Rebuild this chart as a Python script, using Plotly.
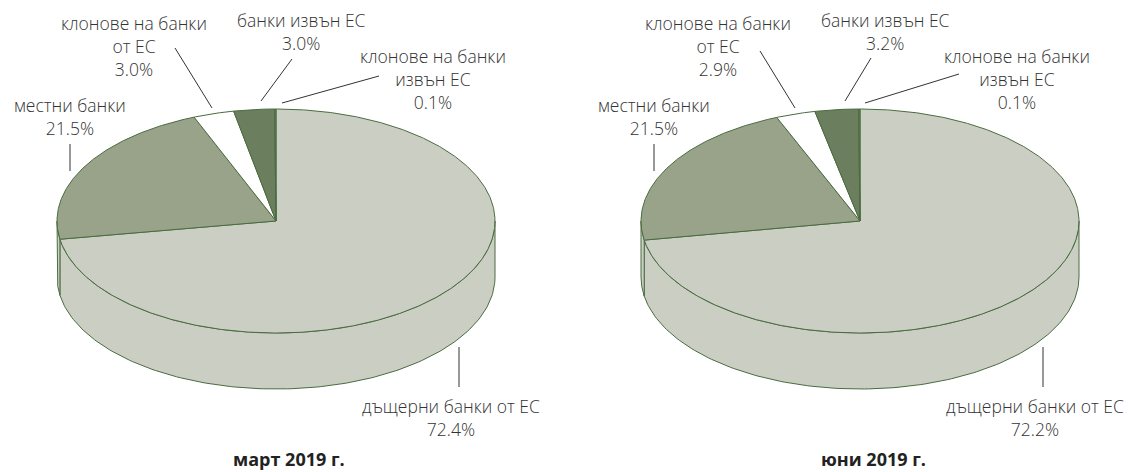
import numpy as np
import plotly.graph_objects as go

categories = ["дъщерни банки от ЕС", "местни банки", "клонове на банки от ЕС",
              "банки извън ЕС", "клонове на банки извън ЕС"]
march_values = [72.4, 21.5, 3.0, 3.0, 0.1]
june_values = [72.2, 21.5, 2.9, 3.2, 0.1]
march_title = "март 2019 г."
june_title = "юни 2019 г."

colors = ["#CBCFC3", "#99A389", "#FFFFFF", "#6B7F5E", "#6B7F5E"]
WALL = "#CBCFC3"
EDGE = "#4A6B40"
FONT = "Open Sans"
TEXT = "#333333"
A, B, DEPTH, CY = 219, 112, 56, 221
OFFSET = 584

fig = go.Figure()


def poly(xs, ys, fill):
    fig.add_trace(go.Scatter(x=xs, y=ys, mode="lines", fill="toself", fillcolor=fill,
                             line=dict(color=EDGE, width=1), hoverinfo="skip", showlegend=False))


def draw_pie(values, cx):
    edges = np.cumsum([0] + list(values)) / sum(values) * 2 * np.pi
    # side wall: only the front half of the disc is visible
    for i, v in enumerate(values):
        lo, hi = max(edges[i], np.pi / 2), min(edges[i + 1], 3 * np.pi / 2)
        if hi > lo:
            t = np.linspace(lo, hi, 160)
            xs = cx + A * np.sin(t)
            ys = CY - B * np.cos(t)
            poly(np.r_[xs, xs[::-1], xs[0]], np.r_[ys, ys[::-1] + DEPTH, ys[0]], WALL)
    # top face
    for i, v in enumerate(values):
        n = max(4, int(v * 8))
        t = np.linspace(edges[i], edges[i + 1], n)
        xs = cx + A * np.sin(t)
        ys = CY - B * np.cos(t)
        poly(np.r_[cx, xs, cx], np.r_[CY, ys, CY], colors[i])


draw_pie(march_values, 276)
draw_pie(june_values, 276 + OFFSET)

leaders = [((175, 48), (212, 108)), ((292, 59), (261, 101)), ((379, 76), (282, 103)),
           ((70, 144), (70, 171)), ((459, 347), (459, 387))]
leaders_r = [((176, 51), (211, 108)), ((287, 58), (261, 101)), ((375, 74), (281, 103)),
             ((70, 144), (70, 171)), ((459, 347), (459, 387))]
for base, segs in ((0, leaders), (OFFSET, leaders_r)):
    for (x0, y0), (x1, y1) in segs:
        fig.add_trace(go.Scatter(x=[x0 + base, x1 + base], y=[y0, y1], mode="lines",
                                 line=dict(color="#333333", width=1), hoverinfo="skip", showlegend=False))


def pct(v):
    return f"{v:.1f}%"


def labels(values, base):
    texts = [
        (451, 417, ["дъщерни банки от ЕС", pct(values[0])]),
        (70, 116, ["местни банки", pct(values[1])]),
        (134, 46, ["клонове на банки", "от ЕС", pct(values[2])]),
        (301, 31, ["банки извън ЕС", pct(values[3])]),
        (433, 79, ["клонове на банки", "извън ЕС", pct(values[4])]),
    ]
    for x, y, lines in texts:
        fig.add_annotation(x=x + base, y=y, text="<br>".join(lines), showarrow=False,
                           xanchor="center", yanchor="middle", align="center",
                           font=dict(family=FONT, size=17.5, color=TEXT, weight=300))


labels(march_values, 0)
labels(june_values, OFFSET)
for x, s in ((289, march_title), (289 + OFFSET, june_title)):
    fig.add_annotation(x=x, y=459, text=f"<b>{s}</b>", showarrow=False, xanchor="center", yanchor="middle",
                       font=dict(family=FONT, size=18, color="#222222"))

fig.update_layout(width=1130, height=472, margin=dict(l=0, r=0, t=0, b=0),
                  paper_bgcolor="white", plot_bgcolor="white", showlegend=False,
                  xaxis=dict(range=[0, 1130], visible=False, fixedrange=True),
                  yaxis=dict(range=[472, 0], visible=False, fixedrange=True))
fig.write_html("out.html", config={"displayModeBar": False},
               post_script="document.body.style.margin='0';document.documentElement.style.overflow='hidden';")
